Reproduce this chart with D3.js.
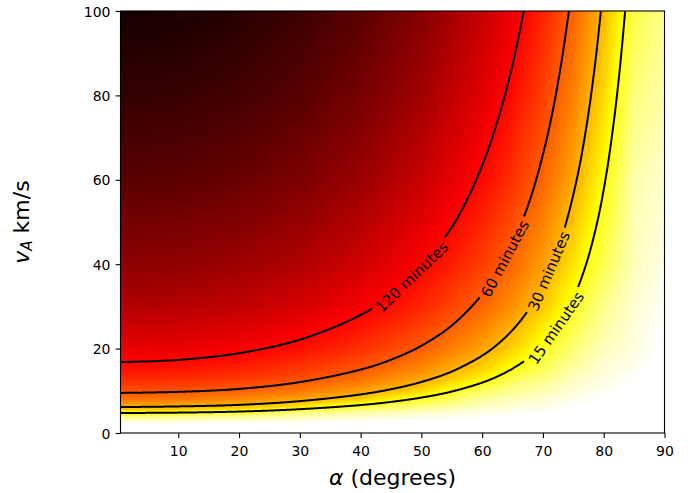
<!DOCTYPE html>
<html>
<head>
<meta charset="utf-8">
<script src="https://cdn.jsdelivr.net/npm/d3@7"></script>
<style>
  body { margin: 0; background: #fff; }
  text { font-family: "DejaVu Sans", sans-serif; }
</style>
</head>
<body>
<div id="chart"></div>
<script>
// ---- data ----
// grid of travel times (minutes); rows follow speedGrid, columns follow alphaGrid
const alphaGrid = [0, 10, 20, 30, 40, 50, 60, 65, 70, 75, 80, 85, 90];
const speedGrid = [0, 2, 3, 4, 5, 6, 8, 10, 12.5, 15, 20, 30, 40, 60, 80, 100];
const minutesGrid = [
  [3.5, 3.5, 3.5, 3.5, 3.5, 3.4, 3.4, 3.2, 3.2, 3.1, 3.0, 2.9, 2.9],
  [4.25, 4.25, 4.1, 4.1, 4.0, 3.85, 3.7, 3.6, 3.5, 3.35, 3.2, 3.1, 3.0],
  [5.6, 5.45, 5.35, 5.1, 4.6, 4.35, 4.1, 3.85, 3.7, 3.5, 3.35, 3.2, 3.0],
  [9.4, 8.8, 8.0, 6.55, 5.6, 5.0, 4.45, 4.25, 4.0, 3.75, 3.5, 3.2, 3.1],
  [18.6, 17.4, 14.2, 9.3, 7.2, 5.8, 5.0, 4.6, 4.35, 4.0, 3.6, 3.35, 3.1],
  [29.2, 27.8, 24.0, 18.0, 10.8, 7.7, 5.6, 5.1, 4.7, 4.25, 3.85, 3.5, 3.2],
  [48.0, 46.2, 41.1, 33.2, 23.5, 13.3, 7.1, 6.0, 5.45, 4.7, 4.1, 3.7, 3.35],
  [65.3, 63.1, 56.6, 46.8, 34.7, 21.9, 9.8, 7.7, 6.4, 5.2, 4.5, 4.0, 3.5],
  [85.9, 83.1, 75.0, 62.7, 47.6, 31.5, 16.4, 9.8, 7.7, 5.8, 4.85, 4.25, 3.6],
  [105.8, 102.4, 92.8, 78.0, 59.9, 40.6, 22.5, 14.6, 10.0, 6.7, 5.2, 4.5, 3.7],
  [144.7, 140.2, 127.4, 107.7, 83.5, 57.8, 33.6, 23.1, 13.9, 8.8, 6.0, 5.0, 4.0],
  [221, 214.3, 195, 165.4, 129.2, 90.6, 54.4, 38.5, 24.8, 13.7, 7.7, 5.45, 4.35],
  [296.5, 287.5, 261.8, 222.4, 174, 122.7, 74.3, 53.2, 34.9, 20.1, 10.5, 6.0, 4.8],
  [446.6, 433.2, 394.7, 335.6, 263, 185.9, 113.4, 81.7, 54.3, 32.1, 15.7, 6.5, 5.5],
  [596.4, 578.5, 527.1, 448.3, 351.6, 248.8, 152.1, 109.9, 73.3, 43.7, 21.9, 8.5, 6.6],
  [746, 723.7, 659.5, 561, 440, 311.6, 190.7, 137.9, 92.2, 55.2, 27.9, 11.2, 7.7]
];

// contour lines, [alpha, vA]
const levelMinutes = [120, 60, 30, 15];
const contour120 = [[0.5,16.81],[10,17.32],[20,18.92],[30,22.11],[40,27.97],[45,32.62],[50,39.17],[55,48.76],[57.5,55.24],[60,63.4],[61.66,70],[63.74,80],[65.43,90],[66.85,100]];
const contour60 = [[0.5,9.5],[10,9.75],[20,10.45],[30,12.06],[40,15.02],[45,17.36],[50,20.66],[55,25.47],[60,32.81],[62.5,38.0],[65,44.74],[67.5,53.72],[68.88,60],[70.67,70],[72.10,80],[73.27,90],[74.27,100]];
const contour30 = [[0.5,6.15],[10,6.3],[20,6.67],[30,7.55],[40,9.14],[45,10.37],[50,12.09],[55,14.57],[60,18.33],[62.5,20.98],[65,24.39],[67.5,28.93],[70,35.1],[72.5,43.77],[73.85,50],[75.55,60],[76.86,70],[77.91,80],[78.79,90],[79.53,100]];
const contour15 = [[0.5,4.74],[10,4.83],[20,5.08],[30,5.64],[40,6.62],[45,7.37],[50,8.39],[55,9.82],[60,11.94],[62.5,13.39],[65,15.25],[67.5,17.67],[70,20.93],[72.5,25.45],[75,31.98],[77.11,40],[78.94,50],[80.28,60],[81.32,70],[82.18,80],[82.90,90],[83.52,100]];
const contourLines = [contour120, contour60, contour30, contour15];
const labelAlpha = [48.5, 63.8, 71.0, 72.2];

const xTicks = [10, 20, 30, 40, 50, 60, 70, 80, 90];
const yTicks = [0, 20, 40, 60, 80, 100];

// ---- layout ----
const width = 695, height = 493;
const plot = {left: 120.5, right: 664.5, top: 11, bottom: 433};

const svg = d3.select("#chart").append("svg")
    .attr("width", width)
    .attr("height", height);

const x = d3.scaleLinear().domain([0.5, 90]).range([plot.left, plot.right]);
const y = d3.scaleLinear().domain([0, 100]).range([plot.bottom, plot.top]);

// hot colormap
const hot = d3.scaleLinear()
    .domain([0, 0.365, 0.746, 1])
    .range(["rgb(11,0,0)", "rgb(255,0,0)", "rgb(255,255,0)", "rgb(255,255,255)"])
    .clamp(true);
const timeToPos = d3.scaleLog().domain([820, 4.24]).range([0, 1]).clamp(true);

// lookup table so the pixel loop stays quick
const lut = d3.range(1025).map(i => d3.rgb(hot(i / 1024)));

function locate(arr, val){
    let i = d3.bisectRight(arr, val) - 1;
    i = Math.max(0, Math.min(arr.length - 2, i));
    let f = (val - arr[i]) / (arr[i + 1] - arr[i]);
    return [i, Math.max(0, Math.min(1, f))];
}

const logGrid = minutesGrid.map(r => r.map(Math.log));

// ---- heatmap raster ----
const pw = Math.round(plot.right - plot.left), ph = Math.round(plot.bottom - plot.top);
const canvas = document.createElement("canvas");
canvas.width = pw; canvas.height = ph;
const ctx = canvas.getContext("2d");
const img = ctx.createImageData(pw, ph);
for(let py = 0; py < ph; py++){
    const v = y.invert(plot.top + py + 0.5);
    const [iv, fv] = locate(speedGrid, v);
    for(let px = 0; px < pw; px++){
        const a = x.invert(plot.left + px + 0.5);
        const [ia, fa] = locate(alphaGrid, a);
        const g00 = logGrid[iv][ia], g01 = logGrid[iv][ia + 1];
        const g10 = logGrid[iv + 1][ia], g11 = logGrid[iv + 1][ia + 1];
        const lt = (g00 * (1 - fa) + g01 * fa) * (1 - fv) + (g10 * (1 - fa) + g11 * fa) * fv;
        const c = lut[Math.round(timeToPos(Math.exp(lt)) * 1024)];
        const k = (py * pw + px) * 4;
        img.data[k] = c.r; img.data[k + 1] = c.g; img.data[k + 2] = c.b; img.data[k + 3] = 255;
    }
}
ctx.putImageData(img, 0, 0);

svg.append("defs").append("clipPath").attr("id", "clip")
    .append("rect")
    .attr("x", plot.left).attr("y", plot.top)
    .attr("width", plot.right - plot.left).attr("height", plot.bottom - plot.top);

svg.append("image")
    .attr("x", plot.left).attr("y", plot.top)
    .attr("width", pw).attr("height", ph)
    .attr("preserveAspectRatio", "none")
    .attr("href", canvas.toDataURL());

// ---- contours with inline labels ----
const line = d3.line()
    .x(d => x(d[0]))
    .y(d => y(d[1]))
    .curve(d3.curveCatmullRom.alpha(0.5));
const poly = d3.line();

const gContours = svg.append("g").attr("clip-path", "url(#clip)");
const gLabels = svg.append("g");

contourLines.forEach((pts, li) => {
    const tmp = svg.append("path").attr("d", line(pts)).attr("fill", "none");
    const node = tmp.node();
    const total = node.getTotalLength();
    const samples = [];
    for(let s = 0; s <= total; s += 0.5){
        const p = node.getPointAtLength(s);
        samples.push([p.x, p.y, s]);
    }
    tmp.remove();

    const text = gLabels.append("text")
        .attr("font-size", 15)
        .attr("fill", "#000")
        .attr("text-anchor", "middle")
        .attr("dominant-baseline", "central")
        .text(levelMinutes[li] + " minutes");
    const tw = text.node().getComputedTextLength();

    const targetX = x(labelAlpha[li]);
    let best = 0;
    samples.forEach((p, i) => {
        if(Math.abs(p[0] - targetX) < Math.abs(samples[best][0] - targetX)) best = i;
    });
    const mid = samples[best];
    const pa = samples[Math.max(0, best - 12)], pb = samples[Math.min(samples.length - 1, best + 12)];
    let ang = Math.atan2(pb[1] - pa[1], pb[0] - pa[0]) * 180 / Math.PI;
    if(ang > 90) ang -= 180;
    if(ang < -90) ang += 180;
    text.attr("transform", "translate(" + mid[0] + "," + mid[1] + ") rotate(" + ang + ")");

    const half = tw / 2 + 4;
    const before = samples.filter(p => p[2] < mid[2] - half).map(p => [p[0], p[1]]);
    const after = samples.filter(p => p[2] > mid[2] + half).map(p => [p[0], p[1]]);
    [before, after].forEach(seg => {
        if(seg.length > 1){
            gContours.append("path")
                .attr("d", poly(seg))
                .attr("fill", "none")
                .attr("stroke", "#000")
                .attr("stroke-width", 2);
        }
    });
});

// ---- axes ----
const xAxis = svg.append("g")
    .attr("transform", "translate(0," + plot.bottom + ")")
    .call(d3.axisBottom(x).tickValues(xTicks).tickSize(4.9).tickSizeOuter(0).tickFormat(d3.format("d")));
xAxis.select(".domain").remove();
xAxis.selectAll("line").attr("stroke", "#000").attr("stroke-width", 1.1);
xAxis.selectAll("text")
    .attr("y", 22.5).attr("dy", null)
    .attr("font-size", 14).attr("font-family", "DejaVu Sans").attr("fill", "#000");

const yAxis = svg.append("g")
    .attr("transform", "translate(" + plot.left + ",0)")
    .call(d3.axisLeft(y).tickValues(yTicks).tickSize(4.9).tickSizeOuter(0).tickFormat(d3.format("d")));
yAxis.select(".domain").remove();
yAxis.selectAll("line").attr("stroke", "#000").attr("stroke-width", 1.1);
yAxis.selectAll("text")
    .attr("x", -10).attr("dy", "0.36em")
    .attr("font-size", 14).attr("font-family", "DejaVu Sans").attr("fill", "#000");

svg.append("rect")
    .attr("x", plot.left).attr("y", plot.top)
    .attr("width", plot.right - plot.left).attr("height", plot.bottom - plot.top)
    .attr("fill", "none").attr("stroke", "#000").attr("stroke-width", 1.1);

// axis titles
const xt = svg.append("text")
    .attr("x", (plot.left + plot.right) / 2).attr("y", 485)
    .attr("text-anchor", "middle").attr("font-size", 22).attr("fill", "#000");
xt.append("tspan").attr("font-style", "italic").text("α");
xt.append("tspan").text(" (degrees)");

const yt = svg.append("text")
    .attr("transform", "translate(28.5," + ((plot.top + plot.bottom) / 2) + ") rotate(-90)")
    .attr("text-anchor", "middle").attr("font-size", 22).attr("fill", "#000");
yt.append("tspan").attr("font-style", "italic").text("v");
yt.append("tspan").attr("font-style", "italic").attr("font-size", 15).attr("dy", 3.4).text("A");
yt.append("tspan").attr("dy", -3.4).text(" km/s");
</script>
</body>
</html>
